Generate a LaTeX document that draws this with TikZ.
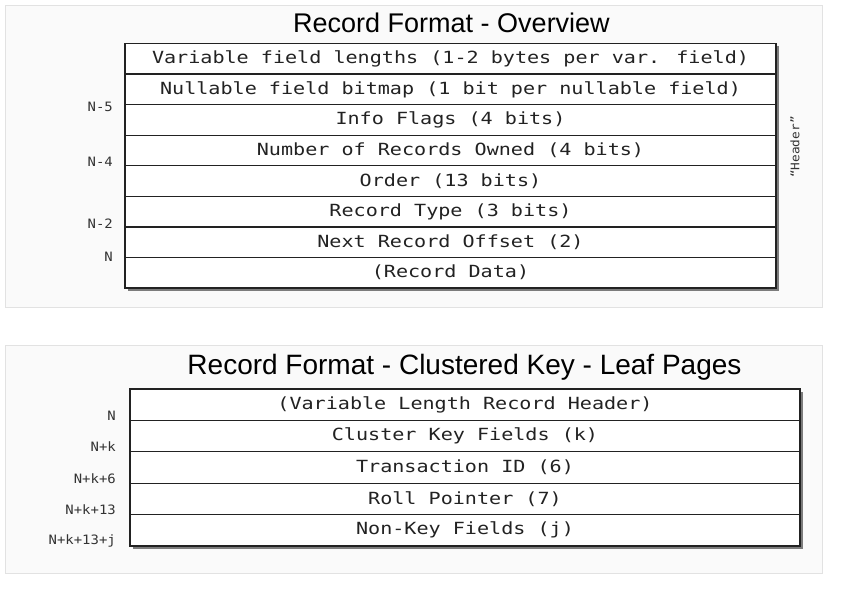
\documentclass[tikz,border=0pt]{standalone}
\usepackage{fontspec}
\setmainfont{Liberation Sans}
\newfontfamily\monofont[FakeStretch=1.2]{DejaVu Sans Mono}
\newfontfamily\smallmono[FakeStretch=1.08]{DejaVu Sans Mono}
\usetikzlibrary{shadows}

\definecolor{panelfill}{HTML}{FAFAFA}
\definecolor{paneledge}{HTML}{E2E2E2}
\definecolor{ink}{HTML}{222222}
\definecolor{labelink}{HTML}{333333}

\tikzset{
  panel/.style={draw=paneledge, fill=panelfill, line width=0.9pt, inner sep=0pt, outer sep=0pt, anchor=north west},
  title/.style={text=black, anchor=base, inner sep=0pt},
  frame/.style={draw=ink, fill=white, line width=1.8pt, inner sep=0pt, outer sep=0pt, anchor=north west,
    drop shadow={shadow xshift=2.5pt, shadow yshift=-2.5pt, opacity=0.5, fill=black}},
  cell/.style={inner sep=0pt, outer sep=0pt, minimum height=#1, text=ink,
    font=\monofont\fontsize{16.75}{19}\selectfont},
  sep/.style={draw=ink, line width=1.3pt},
  offset/.style={anchor=east, inner sep=0pt, text=labelink, font=\smallmono\fontsize{12.9}{15}\selectfont},
  note/.style={inner sep=0pt, text=labelink, rotate=90, font=\smallmono\fontsize{11.8}{14}\selectfont}
}

\begin{document}
\begin{tikzpicture}[x=1pt, y=-1pt]
\useasboundingbox (0,0) rectangle (867,592);

% ---------- panels ----------
\node[panel, minimum width=817pt, minimum height=302pt] (panelA) at (5,5) {};
\node[panel, minimum width=817pt, minimum height=228pt] (panelB) at (5,345) {};

% ---------- overview ----------
\node[title, font=\fontsize{27}{31}\selectfont] (titleA) at (451.5,32) {Record Format - Overview};

\node[frame, minimum width=651pt, minimum height=244.5pt] (tabA) at (125,43.5) {};
\begin{scope}[every node/.style={cell=30.56pt, minimum width=651pt}]
  \node[anchor=north west] (a1) at (tabA.north west) {Variable field lengths (1-2 bytes per var. field)};
  \node[anchor=north] (a2) at (a1.south) {Nullable field bitmap (1 bit per nullable field)};
  \node[anchor=north] (a3) at (a2.south) {Info Flags (4 bits)};
  \node[anchor=north] (a4) at (a3.south) {Number of Records Owned (4 bits)};
  \node[anchor=north] (a5) at (a4.south) {Order (13 bits)};
  \node[anchor=north] (a6) at (a5.south) {Record Type (3 bits)};
  \node[anchor=north] (a7) at (a6.south) {Next Record Offset (2)};
  \node[anchor=north] (a8) at (a7.south) {(Record Data)};
\end{scope}
\foreach \r in {1,...,7}{
  \draw[sep] (a\r.south west) -- (a\r.south east);
}

\node[offset] (oA1) at (113,107) {N-5};
\node[offset] (oA2) at (113,162) {N-4};
\node[offset] (oA3) at (113,224) {N-2};
\node[offset] (oA4) at (113,257) {N};

\node[note] (hdr) at (795,147) {“Header”};

% ---------- clustered key leaf pages ----------
\node[title, font=\fontsize{28}{32}\selectfont] (titleB) at (464.5,374) {Record Format - Clustered Key - Leaf Pages};

\node[frame, minimum width=670pt, minimum height=157pt] (tabB) at (130,389) {};
\begin{scope}[every node/.style={cell=31.4pt, minimum width=670pt}]
  \node[anchor=north west] (b1) at (tabB.north west) {(Variable Length Record Header)};
  \node[anchor=north] (b2) at (b1.south) {Cluster Key Fields (k)};
  \node[anchor=north] (b3) at (b2.south) {Transaction ID (6)};
  \node[anchor=north] (b4) at (b3.south) {Roll Pointer (7)};
  \node[anchor=north] (b5) at (b4.south) {Non-Key Fields (j)};
\end{scope}
\foreach \r in {1,...,4}{
  \draw[sep] (b\r.south west) -- (b\r.south east);
}

\node[offset] (oB1) at (116,416) {N};
\node[offset] (oB2) at (116,447) {N+k};
\node[offset] (oB3) at (116,479) {N+k+6};
\node[offset] (oB4) at (116,510) {N+k+13};
\node[offset] (oB5) at (116,541) {N+k+13+j};
\end{tikzpicture}
\end{document}
